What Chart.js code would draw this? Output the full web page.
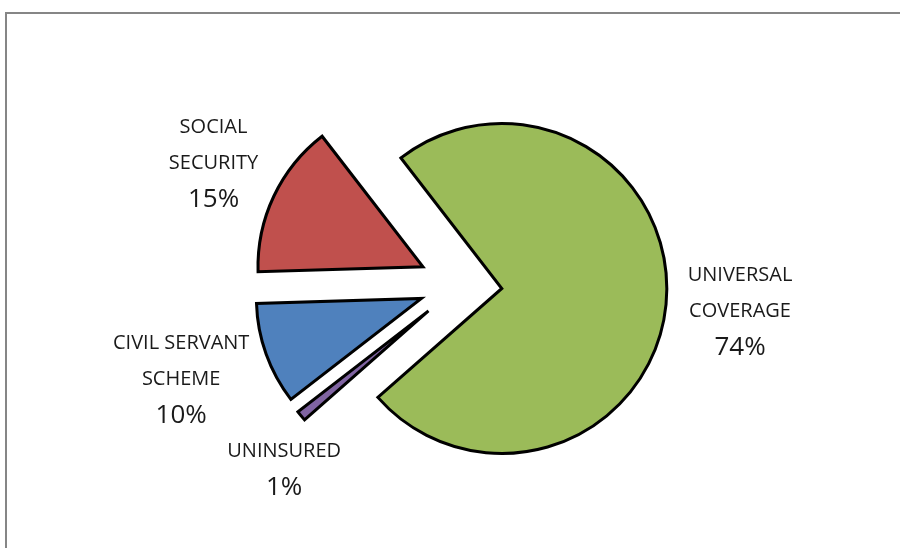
<!DOCTYPE html>
<html>
<head>
<meta charset="utf-8">
<script src="https://cdn.jsdelivr.net/npm/chart.js@4.4.1/dist/chart.umd.min.js"></script>
<style>
  html, body { margin: 0; padding: 0; background: #fff; overflow: hidden; }
  #wrap { position: relative; width: 900px; height: 548px; overflow: hidden; }
  #frame { position: absolute; left: 5px; top: 12px; width: 1000px; height: 700px; border: 2px solid #868686; }
  #chart { position: absolute; left: 0; top: 0; }
</style>
</head>
<body>
<div id="wrap">
  <div id="frame"></div>
  <canvas id="chart" width="900" height="548"></canvas>
</div>
<script>
const categories = [['UNIVERSAL', 'COVERAGE'], ['UNINSURED'], ['CIVIL SERVANT', 'SCHEME'], ['SOCIAL', 'SECURITY']];
const shares = [74, 1, 10, 15];
const sliceColors = ['#9BBB59', '#8064A2', '#4F81BD', '#C0504D'];

const EXPLODE = 41.5;
const RADIUS = 165;
const LABEL_GAP = 22;
const NAME_FONT = '20px "Open Sans"';
const PCT_FONT = '26px "Open Sans"';
const LINE_H = 36;

// excel style exploded pie: every slice pushed out along its middle angle
const explodePlugin = {
    id: 'explode',
    afterDatasetsUpdate(chart) {
        chart.getDatasetMeta(0).data.forEach(arc => {
            const mid = (arc.startAngle + arc.endAngle) / 2;
            arc.x += Math.cos(mid) * EXPLODE;
            arc.y += Math.sin(mid) * EXPLODE;
        });
    }
};

// outside-end labels: name lines + percentage
const labelPlugin = {
    id: 'sliceLabels',
    afterDatasetsDraw(chart) {
        const ctx = chart.ctx;
        const arcs = chart.getDatasetMeta(0).data;
        const total = shares.reduce((a, b) => a + b, 0);
        const order = shares.map((v, i) => i).sort((a, b) => shares[b] - shares[a]);
        const boxes = [];

        order.forEach(i => {
            const arc = arcs[i];
            const mid = (arc.startAngle + arc.endAngle) / 2;
            const cos = Math.cos(mid), sin = Math.sin(mid);
            const lines = categories[i];
            const pct = Math.round(shares[i] / total * 100) + '%';

            ctx.font = NAME_FONT;
            let w = Math.max(...lines.map(l => ctx.measureText(l).width));
            ctx.font = PCT_FONT;
            w = Math.max(w, ctx.measureText(pct).width);
            const h = (lines.length + 1) * LINE_H;

            const r = arc.outerRadius + LABEL_GAP;
            const ax = arc.x + cos * r;
            let cx = ax + cos * w / 2;
            let cy = arc.y + sin * r + sin * h / 2;

            // crowded label: slide it below/above the neighbour, centred on its anchor
            boxes.forEach(b => {
                if (Math.abs(cx - b.cx) < (w + b.w) / 2 && Math.abs(cy - b.cy) < (h + b.h) / 2) {
                    const push = (h + b.h) / 2 - Math.abs(cy - b.cy);
                    cy += cy >= b.cy ? push : -push;
                    cx = ax;
                }
            });
            boxes.push({ cx, cy, w, h });

            ctx.save();
            ctx.fillStyle = '#1a1a1a';
            ctx.textAlign = 'center';
            ctx.textBaseline = 'middle';
            const top = cy - h / 2;
            ctx.font = NAME_FONT;
            lines.forEach((l, k) => ctx.fillText(l, cx, top + LINE_H / 2 + LINE_H * k));
            ctx.font = PCT_FONT;
            ctx.fillText(pct, cx, top + LINE_H / 2 + LINE_H * lines.length);
            ctx.restore();
        });
    }
};

const ctx = document.getElementById('chart').getContext('2d');
new Chart(ctx, {
    type: 'pie',
    data: {
        labels: categories,
        datasets: [{
            data: shares,
            backgroundColor: sliceColors,
            borderColor: '#000',
            borderWidth: 3,
            borderJoinStyle: 'miter'
        }]
    },
    options: {
        responsive: false,
        animation: false,
        events: [],
        rotation: -37.7,
        radius: RADIUS,
        layout: { padding: { left: 21, top: 21, right: 0, bottom: 0 } },
        plugins: {
            legend: { display: false },
            tooltip: { enabled: false }
        }
    },
    plugins: [explodePlugin, labelPlugin]
});
</script>
</body>
</html>
